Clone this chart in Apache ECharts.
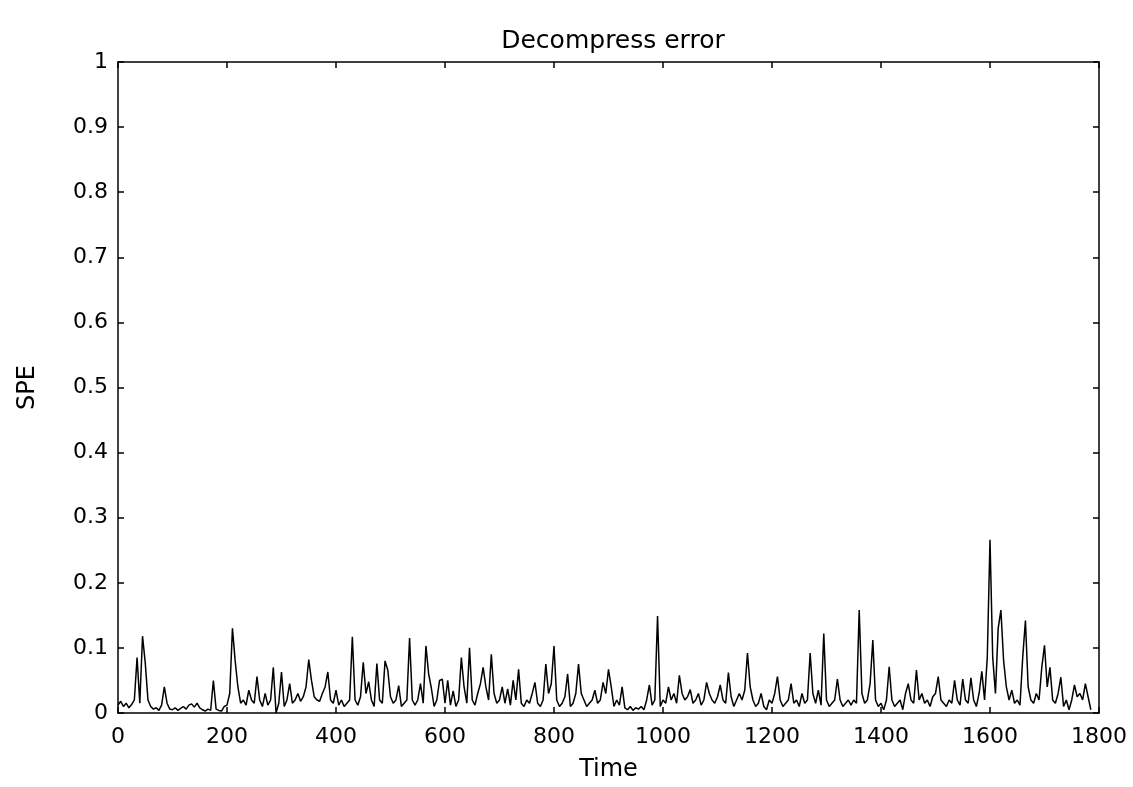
<!DOCTYPE html>
<html>
<head>
<meta charset="utf-8">
<script src="https://cdn.jsdelivr.net/npm/echarts@6/dist/echarts.min.js"></script>
<style>
  html, body { margin: 0; padding: 0; background: #fff; }
  #chart { width: 1133px; height: 787px; }
</style>
</head>
<body>
<div id="chart"></div>
<script>
// Sampling step of the time axis (one reading every 5 time units)
const timeStep = 5;

// SPE readings (time 0, 5, 10, ... 1785)
const speValues = [
  0.012, 0.018, 0.010, 0.015, 0.008, 0.013, 0.020, 0.085, 0.015, 0.118,
  0.077, 0.020, 0.010, 0.006, 0.008, 0.004, 0.012, 0.040, 0.015, 0.006,
  0.005, 0.008, 0.004, 0.007, 0.010, 0.006, 0.012, 0.014, 0.009, 0.015,
  0.008, 0.005, 0.003, 0.006, 0.004, 0.050, 0.006, 0.004, 0.003, 0.010,
  0.012, 0.030, 0.130, 0.080, 0.040, 0.015, 0.020, 0.012, 0.035, 0.020,
  0.015, 0.056, 0.020, 0.010, 0.030, 0.012, 0.020, 0.070, 0.000, 0.015,
  0.063, 0.010, 0.020, 0.045, 0.015, 0.020, 0.030, 0.018, 0.025, 0.040,
  0.082, 0.050, 0.025, 0.020, 0.018, 0.030, 0.040, 0.063, 0.020, 0.015,
  0.035, 0.012, 0.020, 0.010, 0.015, 0.020, 0.117, 0.020, 0.012, 0.025,
  0.078, 0.030, 0.048, 0.020, 0.010, 0.076, 0.020, 0.015, 0.080, 0.066,
  0.025, 0.015, 0.020, 0.042, 0.010, 0.015, 0.020, 0.115, 0.020, 0.012,
  0.020, 0.045, 0.015, 0.103, 0.060, 0.038, 0.010, 0.020, 0.050, 0.052,
  0.015, 0.050, 0.012, 0.034, 0.010, 0.020, 0.085, 0.040, 0.015, 0.100,
  0.020, 0.012, 0.030, 0.045, 0.070, 0.040, 0.020, 0.090, 0.030, 0.015,
  0.020, 0.040, 0.015, 0.037, 0.012, 0.050, 0.020, 0.067, 0.015, 0.010,
  0.020, 0.015, 0.030, 0.047, 0.015, 0.010, 0.020, 0.075, 0.030, 0.045,
  0.103, 0.020, 0.010, 0.015, 0.025, 0.060, 0.010, 0.015, 0.030, 0.075,
  0.030, 0.020, 0.010, 0.015, 0.020, 0.035, 0.015, 0.020, 0.047, 0.030,
  0.067, 0.040, 0.010, 0.020, 0.012, 0.040, 0.008, 0.005, 0.010, 0.004,
  0.008, 0.006, 0.010, 0.005, 0.020, 0.043, 0.012, 0.020, 0.149, 0.010,
  0.020, 0.015, 0.040, 0.020, 0.030, 0.015, 0.058, 0.030, 0.020, 0.025,
  0.036, 0.015, 0.020, 0.030, 0.012, 0.020, 0.047, 0.030, 0.020, 0.015,
  0.025, 0.043, 0.020, 0.015, 0.062, 0.025, 0.010, 0.020, 0.030, 0.020,
  0.035, 0.092, 0.040, 0.020, 0.010, 0.015, 0.030, 0.010, 0.005, 0.020,
  0.015, 0.030, 0.056, 0.020, 0.010, 0.015, 0.020, 0.045, 0.015, 0.020,
  0.010, 0.030, 0.015, 0.020, 0.092, 0.030, 0.015, 0.035, 0.012, 0.122,
  0.020, 0.010, 0.015, 0.020, 0.052, 0.020, 0.010, 0.015, 0.020, 0.012,
  0.020, 0.015, 0.158, 0.030, 0.015, 0.020, 0.045, 0.112, 0.020, 0.010,
  0.015, 0.005, 0.020, 0.071, 0.020, 0.010, 0.015, 0.020, 0.005, 0.030,
  0.045, 0.020, 0.015, 0.066, 0.020, 0.030, 0.015, 0.020, 0.010, 0.025,
  0.030, 0.056, 0.020, 0.015, 0.010, 0.020, 0.015, 0.050, 0.020, 0.012,
  0.052, 0.020, 0.015, 0.054, 0.020, 0.010, 0.030, 0.064, 0.020, 0.085,
  0.266, 0.085, 0.030, 0.130, 0.158, 0.080, 0.040, 0.020, 0.035, 0.015,
  0.020, 0.012, 0.085, 0.142, 0.040, 0.020, 0.015, 0.030, 0.020, 0.070,
  0.104, 0.040, 0.070, 0.020, 0.015, 0.030, 0.055, 0.010, 0.020, 0.005,
  0.020, 0.043, 0.025, 0.030, 0.020, 0.045, 0.025, 0.005
];

const xTicks = [0, 200, 400, 600, 800, 1000, 1200, 1400, 1600, 1800];
const yTicks = [0, 0.1, 0.2, 0.3, 0.4, 0.5, 0.6, 0.7, 0.8, 0.9, 1];

const titleText = 'Decompress error';
const xName = 'Time';
const yName = 'SPE';

const seriesData = speValues.map((v, i) => [i * timeStep, v]);

const font = 'DejaVu Sans';
const boxLine = { show: true, onZero: false, lineStyle: { color: '#000', width: 1.5 } };
const inTick = { show: true, inside: true, length: 6, lineStyle: { color: '#000', width: 1.5 } };

const chart = echarts.init(document.getElementById('chart'), null, { renderer: 'canvas' });
chart.setOption({
  animation: false,
  backgroundColor: '#fff',
  title: {
    text: titleText,
    left: 608, textAlign: 'center', top: 24,
    textStyle: { fontFamily: font, fontSize: 25, fontWeight: 'normal', color: '#000' }
  },
  grid: { left: 118, right: 34, top: 62, bottom: 66, containLabel: false },
  xAxis: [
    {
      type: 'value', min: xTicks[0], max: xTicks[xTicks.length - 1],
      interval: xTicks[1] - xTicks[0], position: 'bottom',
      name: xName, nameLocation: 'middle', nameGap: 45,
      nameTextStyle: { fontFamily: font, fontSize: 24, color: '#000' },
      axisLine: boxLine, axisTick: inTick,
      axisLabel: { fontFamily: font, fontSize: 22, color: '#000', margin: 13,
                   formatter: (v) => String(v) },
      splitLine: { show: false }
    },
    {
      type: 'value', min: xTicks[0], max: xTicks[xTicks.length - 1],
      interval: xTicks[1] - xTicks[0], position: 'top',
      axisLine: boxLine, axisTick: inTick, axisLabel: { show: false },
      splitLine: { show: false }
    }
  ],
  yAxis: [
    {
      type: 'value', min: yTicks[0], max: yTicks[yTicks.length - 1],
      interval: 0.1, position: 'left',
      name: yName, nameLocation: 'middle', nameGap: 78, nameRotate: 90,
      nameTextStyle: { fontFamily: font, fontSize: 24, color: '#000' },
      axisLine: boxLine, axisTick: inTick,
      axisLabel: { fontFamily: font, fontSize: 22, color: '#000', margin: 10,
                   formatter: (v) => String(Math.round(v * 10) / 10) },
      splitLine: { show: false }
    },
    {
      type: 'value', min: yTicks[0], max: yTicks[yTicks.length - 1],
      interval: 0.1, position: 'right',
      axisLine: boxLine, axisTick: inTick, axisLabel: { show: false },
      splitLine: { show: false }
    }
  ],
  series: [
    {
      type: 'line',
      xAxisIndex: 0, yAxisIndex: 0,
      data: seriesData,
      showSymbol: false,
      symbol: 'none',
      lineStyle: { color: '#000', width: 1.5 },
      z: 3
    }
  ]
});
</script>
</body>
</html>
